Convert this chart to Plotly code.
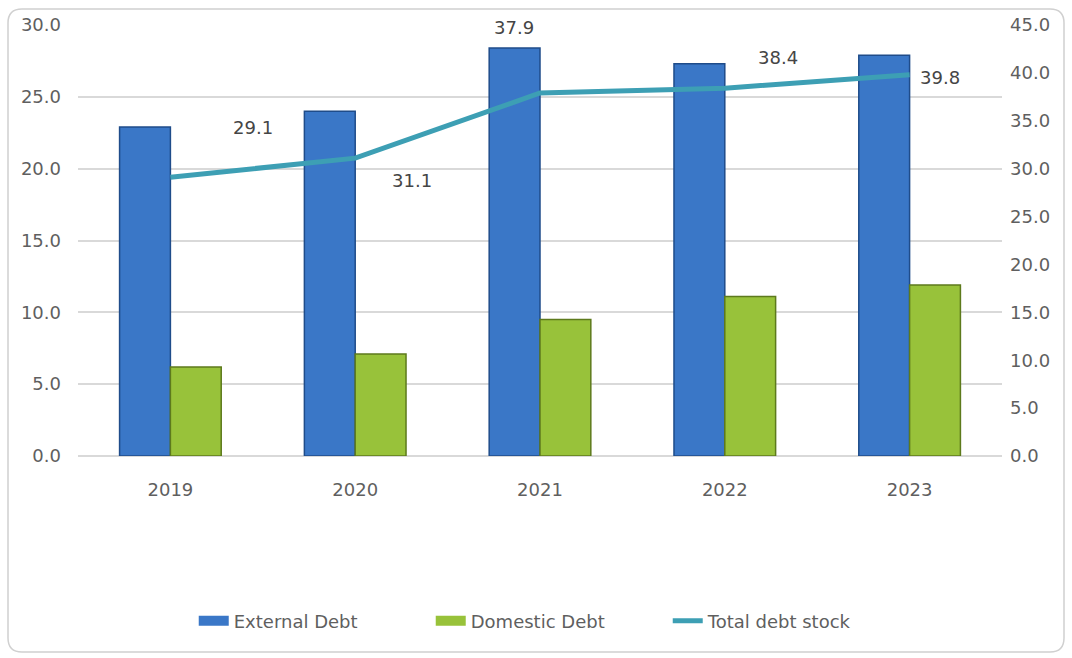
import plotly.graph_objects as go

years = ["2019", "2020", "2021", "2022", "2023"]
external_debt = [22.9, 24.0, 28.4, 27.3, 27.9]
domestic_debt = [6.2, 7.1, 9.5, 11.1, 11.9]
total_debt = [29.1, 31.1, 37.9, 38.4, 39.8]

left_ticks = [0, 5, 10, 15, 20, 25, 30]
right_ticks = [0, 5, 10, 15, 20, 25, 30, 35, 40, 45]

# label offsets (px) for the total-debt data labels
label_shift = [(83, 50), (57, -22), (-26, 66), (53, 31), (30, -3)]

FONT = "DejaVu Sans"
GREY = "#5f5f5f"
BLUE, BLUE_EDGE = "#3a77c7", "#1f4c8a"
GREEN, GREEN_EDGE = "#98c23a", "#5d7a1c"
TEAL = "#3d9fb4"

fig = go.Figure()
fig.add_trace(go.Bar(
    x=years, y=external_debt, name="External Debt", showlegend=False,
    marker=dict(color=BLUE, line=dict(color=BLUE_EDGE, width=1.5)),
))
fig.add_trace(go.Bar(
    x=years, y=domestic_debt, name="Domestic Debt", showlegend=False,
    marker=dict(color=GREEN, line=dict(color=GREEN_EDGE, width=1.5)),
))
fig.add_trace(go.Scatter(
    x=years, y=total_debt, name="Total debt stock", yaxis="y2",
    mode="lines", line=dict(color=TEAL, width=5), showlegend=False,
))

# legend entries drawn as wide swatches
for name, col, w in [("External Debt", BLUE, 10), ("Domestic Debt", GREEN, 10),
                     ("Total debt stock", TEAL, 5)]:
    fig.add_trace(go.Scatter(x=[None], y=[None], name=name, mode="lines",
                             line=dict(color=col, width=w)))

# data labels for total debt (category index positions)
for i, (v, (dx, dy)) in enumerate(zip(total_debt, label_shift)):
    fig.add_annotation(
        x=i, y=v, xref="x", yref="y2", text=f"{v:.1f}", showarrow=False,
        xshift=dx, yshift=dy, font=dict(family=FONT, size=18, color="#454545"),
    )

# rounded outer frame, drawn in paper coordinates
L, R, T, B = 78, 70, 25, 202
W, H = 1072, 658
pw, ph = W - L - R, H - T - B
def px(x):
    return (x - L) / pw
def py(y):
    return (H - B - y) / ph
x0, x1, y0, y1, r = 8, 1064, 9, 652, 14
path = (
    f"M {px(x0 + r)},{py(y0)} L {px(x1 - r)},{py(y0)} "
    f"Q {px(x1)},{py(y0)} {px(x1)},{py(y0 + r)} "
    f"L {px(x1)},{py(y1 - r)} Q {px(x1)},{py(y1)} {px(x1 - r)},{py(y1)} "
    f"L {px(x0 + r)},{py(y1)} Q {px(x0)},{py(y1)} {px(x0)},{py(y1 - r)} "
    f"L {px(x0)},{py(y0 + r)} Q {px(x0)},{py(y0)} {px(x0 + r)},{py(y0)} Z"
)
fig.add_shape(type="path", path=path, xref="paper", yref="paper",
              line=dict(color="#d0d0d0", width=1.5), layer="below")

fig.update_layout(
    width=W, height=H,
    margin=dict(l=L, r=R, t=T, b=B),
    paper_bgcolor="white", plot_bgcolor="white",
    barmode="group", bargap=0.45, bargroupgap=0,
    font=dict(family=FONT, size=18, color=GREY),
    showlegend=True,
    legend=dict(orientation="h", x=0.51, xanchor="center", y=-0.383, yanchor="middle",
                font=dict(family=FONT, size=18, color=GREY), traceorder="normal",
                entrywidth=192),
    xaxis=dict(type="category", range=[-0.5, 4.5], showgrid=False, showline=False,
               ticks="", tickfont=dict(size=18), ticklabelstandoff=21),
    yaxis=dict(range=[0, 30], tickvals=left_ticks, tickformat=".1f",
               showgrid=True, gridcolor="#d9d9d9", gridwidth=1.5,
               zeroline=True, zerolinecolor="#d9d9d9", zerolinewidth=1.5,
               showline=False, ticks="", ticklabelstandoff=16,
               tickfont=dict(size=18)),
    yaxis2=dict(range=[0, 45], tickvals=right_ticks, tickformat=".1f",
                overlaying="y", side="right", showgrid=False, zeroline=False,
                showline=False, ticks="", ticklabelstandoff=7,
                tickfont=dict(size=18)),
)

fig.write_html("out.html")
